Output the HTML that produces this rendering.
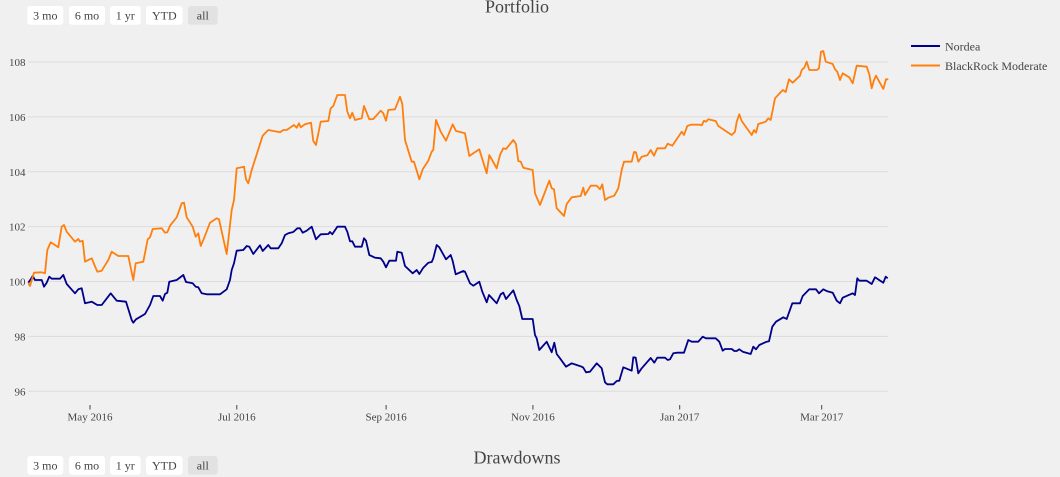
<!DOCTYPE html>
<html><head><meta charset="utf-8"><style>
html,body{margin:0;padding:0;background:#f0f0f0;}
svg{display:block;}
text{font-family:"Liberation Serif",serif;fill:#444;}
</style></head><body>
<svg width="1060" height="477" viewBox="0 0 1060 477" xmlns="http://www.w3.org/2000/svg">
<rect x="0" y="0" width="1060" height="477" fill="#f0f0f0"/>
<g stroke="#dcdcdc" stroke-width="1">
<line x1="28" x2="888" y1="62" y2="62"/>
<line x1="28" x2="888" y1="116.9" y2="116.9"/>
<line x1="28" x2="888" y1="171.8" y2="171.8"/>
<line x1="28" x2="888" y1="226.6" y2="226.6"/>
<line x1="28" x2="888" y1="281.5" y2="281.5"/>
<line x1="28" x2="888" y1="336.4" y2="336.4"/>
<line x1="28" x2="888" y1="391.3" y2="391.3"/>
</g>
<g font-size="11" text-anchor="end">
<text x="25.5" y="66">108</text>
<text x="25.5" y="120.9">106</text>
<text x="25.5" y="175.8">104</text>
<text x="25.5" y="230.6">102</text>
<text x="25.5" y="285.5">100</text>
<text x="25.5" y="340.4">98</text>
<text x="25.5" y="395.3">96</text>
</g>
<g stroke="#444" stroke-width="1">
<line x1="90" x2="90" y1="405" y2="409.5"/>
<line x1="236.8" x2="236.8" y1="405" y2="409.5"/>
<line x1="386.1" x2="386.1" y1="405" y2="409.5"/>
<line x1="532.9" x2="532.9" y1="405" y2="409.5"/>
<line x1="679.7" x2="679.7" y1="405" y2="409.5"/>
<line x1="821.7" x2="821.7" y1="405" y2="409.5"/>
</g>
<g font-size="11" text-anchor="middle">
<text x="90" y="420.5">May 2016</text>
<text x="236.8" y="420.5">Jul 2016</text>
<text x="386.1" y="420.5">Sep 2016</text>
<text x="532.9" y="420.5">Nov 2016</text>
<text x="679.7" y="420.5">Jan 2017</text>
<text x="821.7" y="420.5">Mar 2017</text>
</g>
<polyline fill="none" stroke="#00008b" stroke-width="1.8" stroke-linejoin="round" points="28.3,282.7 30.7,279.3 32.7,276 35,280 41.7,280 44,286.7 46.7,282.7 49.3,276.7 51.7,278.7 60,278.7 63.3,275 66.7,284 75,293.3 78.3,289.3 81.7,288.3 85,303.3 91.7,301.7 97.3,305 101.7,305 110.7,293.3 116.7,300.7 126,301.7 131.7,320 133.3,322.7 136,319.3 145,314 150,305 153.3,296 160,296 162.7,300.7 165,294 167.3,292.7 169.3,281.7 176.7,280 183.3,275 186,282 192.7,283.3 195.7,286.7 198.3,287.3 201.7,293.3 206.7,294.3 220,294.3 226.7,289.3 230,280 231.7,270 234,263.3 236.7,250.7 243.3,250 246.7,246 249.3,246.7 253.3,254 260,245.3 262.7,251 268.3,245 270.7,248.3 278.3,248.3 281.7,243.3 285,235 288.3,233.3 293.3,232 297.3,228.3 300,228.3 302.7,232.7 306.7,230.7 311.7,226.7 316,239.3 320.7,234.3 328.3,234 330,232 332.3,234.3 337.3,226.7 345,226.7 347.3,231.7 350,241.3 352.3,241.3 355,246.7 361.7,246.7 364,238.3 366,240.7 369.3,255 375,257.7 380.7,258.3 383.3,261.7 386,267.3 389.3,260.7 396,260.7 397.3,251.7 401.7,252.7 405,266 412.7,273.3 416.7,270 419.3,274 423.3,267.7 428.3,262.7 431.7,262 433.3,258.3 436.7,245 439.3,247.3 446,259.3 450.7,255 452.7,261 455.7,274.3 463.3,271 465,271.7 470,283.3 473.3,285.7 479.3,281.7 482.3,291.7 486.7,302.3 489,295 496.7,303.3 500.7,294.3 503.3,292.7 506,299 513.3,290.3 516.7,300 519.3,306 522.3,319 532.7,319 535,335 536.7,338.3 539.3,350 546.7,341.7 551.7,352.3 554.3,342.7 556.7,354 560,358.3 566,366.7 571.7,363.3 576.7,365 581.7,366.7 583.3,367.7 586,372.3 590,371.7 596.7,363.3 601.7,368.3 605,382.3 607.3,384.3 613.3,384.3 616.7,381 619.3,380.7 623.3,367.3 631.7,370.7 633.3,357.3 635.7,357.7 638.3,373.3 641.7,368.3 650.7,358 654.3,362.7 657.3,357.7 665,357.7 667.7,360 670,359.3 673.3,353.3 676.7,352.7 684,352.7 688.3,340 691.7,341.7 698.3,341.7 702.7,336.7 706,338.3 715.7,338.3 719.3,341.7 722.7,350.7 725,349 731.7,349 734.3,351 736.7,351 739.3,349.3 742.7,351.7 750.7,354 753.3,346.7 756,349.3 759.3,345 766.7,341.7 769,341.3 772.3,326.7 776,321.7 783.3,317.3 786.7,319 792.3,303.3 800,303.3 802.7,296 809.3,289.3 816,289.3 819,293.3 823.3,289.3 827.3,291.3 832.7,292.7 836.7,300.7 840,303.3 842.7,297.7 852.7,293.3 855,295 857.3,278.3 859.3,280.7 866.7,280.7 871.7,284 875,277.3 883.3,282.7 885.7,276.7 887.7,278.3"/>
<polyline fill="none" stroke="#ff7f0e" stroke-width="1.8" stroke-linejoin="round" points="28.3,283.3 30,286 34,272.7 41.7,272.3 45,273.3 47.3,250 50.7,242.3 58.3,247.3 61.7,226.7 64,225 66.7,231.7 75,241.7 78.3,239 80,241.7 82.7,240.7 85,261.7 91.7,258.3 97.3,271.7 101.7,270.7 108.3,260 111.7,251.7 118.3,256 128.3,256 133.3,280 135.7,263.3 143.3,261.7 147.7,239.3 150,237.3 152.7,229 161.7,228.3 165,232.7 167.3,232.3 170,225.7 176.7,217.3 181.7,203.3 184,202.7 186.7,217.3 192.7,226.7 195.7,236.7 198.3,233.3 200.7,246 204,238.3 210,222.7 216.7,218.3 219,219.3 226.7,254 231.7,210 234,200 236.7,168.3 244,166.7 246,179.3 248.3,183.3 251.7,170 262.7,135.7 265,133.3 268.3,130 280,132.3 283.3,130 286.7,130 294,125 296.7,127.7 299,123.3 300.7,127.3 305,124.3 311,122.7 313.3,141 316,145 320.7,121.7 328.3,121 330.7,108.3 333.3,106 337.3,95 345,95 347.3,111.7 350,118.3 352.3,112.7 355,120 361.7,118.3 364,106 369.3,119.3 373.3,119 380.7,110.7 383.3,113.3 386,120.7 388.3,110 395,109.3 400,96.7 402.3,104 405,140 411.7,161.7 414,161.7 419.3,179.3 422.7,169.3 428.3,160.7 431.7,151.7 433.3,150 436,120 440.7,131.7 446,140.7 452.7,124.3 456,131 465,133.3 469.3,156 479.3,149.3 486.7,173.3 489.3,155 496.7,168.3 500,155 503.3,148.3 506,149 513.3,140 516,144 518.3,161 520.7,161.7 523.3,167.7 532.7,170 535,193.3 540,205 549.3,180.7 551.7,188.3 554,189.3 556.7,208.3 564,216 566.7,204 571.7,197.3 580.7,196 583.3,187.7 585,195 590.7,185.7 596.7,185.7 600,189.3 602.3,184.3 605,200 608.3,197.7 614.3,195.7 618.3,188.3 621.7,170 624,161.7 631.7,161.7 634,152 636,152.3 638.3,161.7 641.7,156.7 647.3,155.3 650.7,150 654,155.7 657.3,148.3 665,148.3 667.7,143.7 672.3,145.7 681.7,131.7 684,135 687.3,126 690.7,124.7 699.3,124.7 701.7,125.3 704,120.7 706,121.7 708.3,119.3 715.7,121 718.3,126 731.7,135 735,131.7 736.7,121.7 739.3,114.3 741.7,121 751.7,135 754,130 756,132.7 758.3,124 765.7,121.7 768.3,118.3 770.7,120 775,98.3 782.7,90 785.7,92 789,79.3 792.7,82.7 800,75.7 801.7,70 804.3,67.7 806.7,61.7 809.3,70 816.7,70 819,68.3 821,51.7 823.3,51 825.7,61.7 832.7,64 835,69.3 837.3,71.7 840,80 842.7,73.3 849.3,77.3 852.7,83.3 856.7,65.7 866.7,66.7 869.3,74.3 871.7,88.3 874,80 876,75.7 883.3,89 886,79.3 888.3,79.3"/>
<line x1="911" x2="940" y1="46" y2="46" stroke="#00008b" stroke-width="2"/>
<line x1="911" x2="940" y1="65.5" y2="65.5" stroke="#ff7f0e" stroke-width="2"/>
<text x="945" y="50.5" font-size="12">Nordea</text>
<text x="945" y="70" font-size="12">BlackRock Moderate</text>
<text x="517" y="12.5" font-size="18" text-anchor="middle">Portfolio</text>
<text x="517" y="463.5" font-size="18" text-anchor="middle">Drawdowns</text>
<g font-size="12" text-anchor="middle">
<rect x="27.3" y="6" width="36" height="18.7" rx="3" fill="#fff"/>
<rect x="69" y="6" width="36" height="18.7" rx="3" fill="#fff"/>
<rect x="110" y="6" width="30.7" height="18.7" rx="3" fill="#fff"/>
<rect x="146" y="6" width="36.7" height="18.7" rx="3" fill="#fff"/>
<rect x="188" y="6" width="29.7" height="18.7" rx="3" fill="#e2e2e2"/>
<text x="45.3" y="19.3">3 mo</text>
<text x="87" y="19.3">6 mo</text>
<text x="125.3" y="19.3">1 yr</text>
<text x="164.3" y="19.3">YTD</text>
<text x="202.8" y="19.3">all</text>
<rect x="27.3" y="456" width="36" height="18.7" rx="3" fill="#fff"/>
<rect x="69" y="456" width="36" height="18.7" rx="3" fill="#fff"/>
<rect x="110" y="456" width="30.7" height="18.7" rx="3" fill="#fff"/>
<rect x="146" y="456" width="36.7" height="18.7" rx="3" fill="#fff"/>
<rect x="188" y="456" width="29.7" height="18.7" rx="3" fill="#e2e2e2"/>
<text x="45.3" y="469.3">3 mo</text>
<text x="87" y="469.3">6 mo</text>
<text x="125.3" y="469.3">1 yr</text>
<text x="164.3" y="469.3">YTD</text>
<text x="202.8" y="469.3">all</text>
</g>
</svg>
</body></html>
